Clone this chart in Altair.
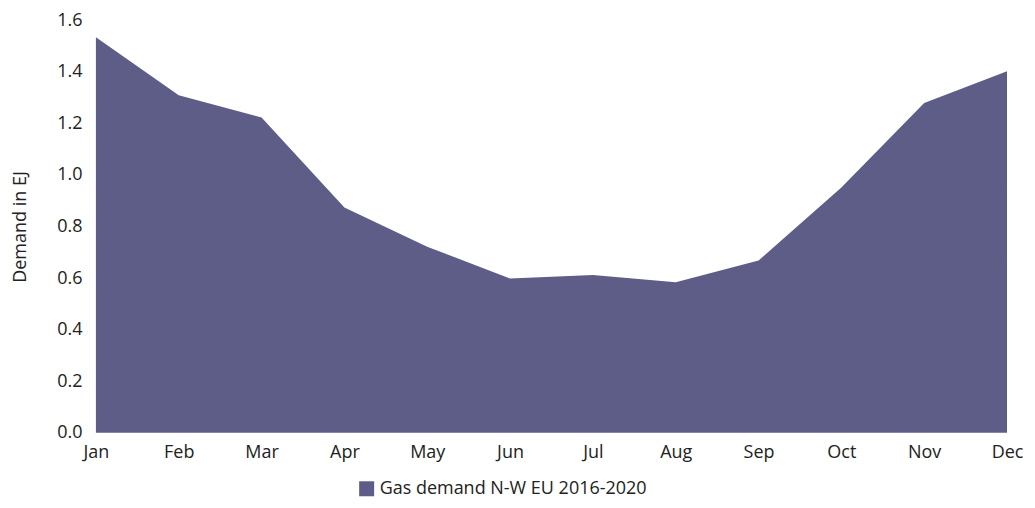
import altair as alt
import pandas as pd

months = ["Jan", "Feb", "Mar", "Apr", "May", "Jun", "Jul", "Aug", "Sep", "Oct", "Nov", "Dec"]
demand = [1.534, 1.309, 1.223, 0.874, 0.722, 0.598, 0.612, 0.584, 0.668, 0.951, 1.279, 1.402]
series = "Gas demand N-W EU 2016-2020"

df = pd.DataFrame({"month": months, "demand": demand, "series": [series] * len(months)})

FONT = "Open Sans"
TXT = "#222222"

chart = alt.Chart(df).mark_area(color="#5e5d88", opacity=1).encode(
    x=alt.X("month:N", sort=months, scale=alt.Scale(padding=0),
            axis=alt.Axis(title=None, labelAngle=0, domain=False, ticks=False,
                          labelPadding=11, labelFontSize=18, labelFont=FONT,
                          labelColor=TXT)),
    y=alt.Y("demand:Q", scale=alt.Scale(domain=[0, 1.6], nice=False),
            axis=alt.Axis(title="Demand in EJ", values=[0, 0.2, 0.4, 0.6, 0.8, 1.0, 1.2, 1.4, 1.6],
                          format=".1f", domain=False, ticks=False, grid=False,
                          labelPadding=14, labelFontSize=18, labelFont=FONT,
                          labelColor=TXT, titleFont=FONT, titleFontSize=18,
                          titleFontWeight="normal", titleColor=TXT,
                          titleX=-66)),
    color=alt.Color("series:N", scale=alt.Scale(range=["#5e5d88"]),
                    legend=alt.Legend(title=None, orient="none", legendX=262, legendY=460,
                                      symbolType="square", symbolSize=225, symbolStrokeWidth=0,
                                      labelFontSize=18, labelFont=FONT, labelColor=TXT,
                                      labelLimit=0, symbolOpacity=1)),
).properties(
    width=912, height=413,
    autosize=alt.AutoSizeParams(type="none"),
    padding={"left": 88, "top": 12, "right": 20, "bottom": 66},
).configure_view(stroke=None).configure_axis(grid=False)

chart.save("out.html", embed_options={"renderer": "svg", "actions": False})
